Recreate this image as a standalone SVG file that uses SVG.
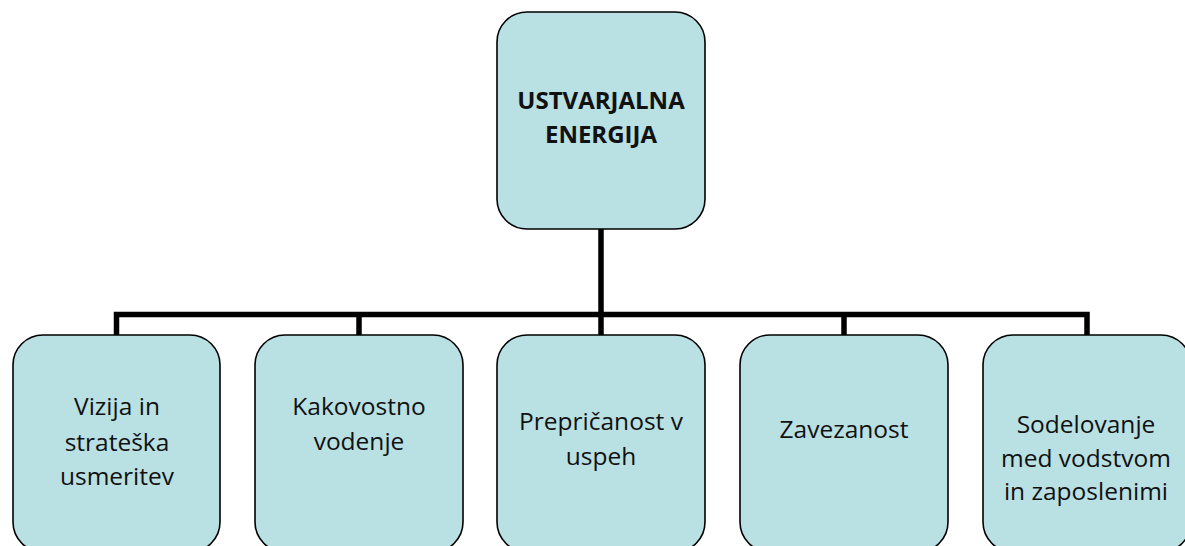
<svg xmlns="http://www.w3.org/2000/svg" width="1185" height="546" viewBox="0 0 1185 546">
<style>
.box{fill:#B9E0E3;stroke:#000;stroke-width:1.6}
.t{font-family:"Open Sans","Liberation Sans",sans-serif;font-size:24.5px;fill:#111;text-anchor:middle}
.tb{font-family:"Open Sans","Liberation Sans",sans-serif;font-size:24px;font-weight:bold;fill:#111;text-anchor:middle}
.c{stroke:#000;stroke-width:5.5;fill:none}
</style>
<rect width="1185" height="546" fill="#fff"/>
<g id="connectors">
<line class="c" x1="601" y1="229" x2="601" y2="314.5"/>
<polyline class="c" points="116.5,335 116.5,314.5 1087,314.5 1087,335"/>
<line class="c" x1="359" y1="314.5" x2="359" y2="335"/>
<line class="c" x1="601" y1="314.5" x2="601" y2="335"/>
<line class="c" x1="844" y1="314.5" x2="844" y2="335"/>
</g>
<g id="root">
<rect class="box" x="497" y="12" width="208" height="217" rx="30"/>
<text class="tb" x="601" y="109">USTVARJALNA</text>
<text class="tb" x="601" y="143">ENERGIJA</text>
</g>
<g id="n1">
<rect class="box" x="13" y="335" width="207" height="217" rx="30"/>
<text class="t" x="117" y="415">Vizija in</text>
<text class="t" x="117" y="451">strateška</text>
<text class="t" x="117" y="485">usmeritev</text>
</g>
<g id="n2">
<rect class="box" x="255" y="335" width="208" height="217" rx="30"/>
<text class="t" x="359" y="415">Kakovostno</text>
<text class="t" x="359" y="450">vodenje</text>
</g>
<g id="n3">
<rect class="box" x="497" y="335" width="208" height="217" rx="30"/>
<text class="t" x="601" y="430">Prepričanost v</text>
<text class="t" x="601" y="465">uspeh</text>
</g>
<g id="n4">
<rect class="box" x="740" y="335" width="208" height="217" rx="30"/>
<text class="t" x="844" y="438">Zavezanost</text>
</g>
<g id="n5">
<rect class="box" x="983" y="335" width="208" height="217" rx="30"/>
<text class="t" x="1086" y="433">Sodelovanje</text>
<text class="t" x="1086" y="467">med vodstvom</text>
<text class="t" x="1086" y="500">in zaposlenimi</text>
</g>
</svg>
